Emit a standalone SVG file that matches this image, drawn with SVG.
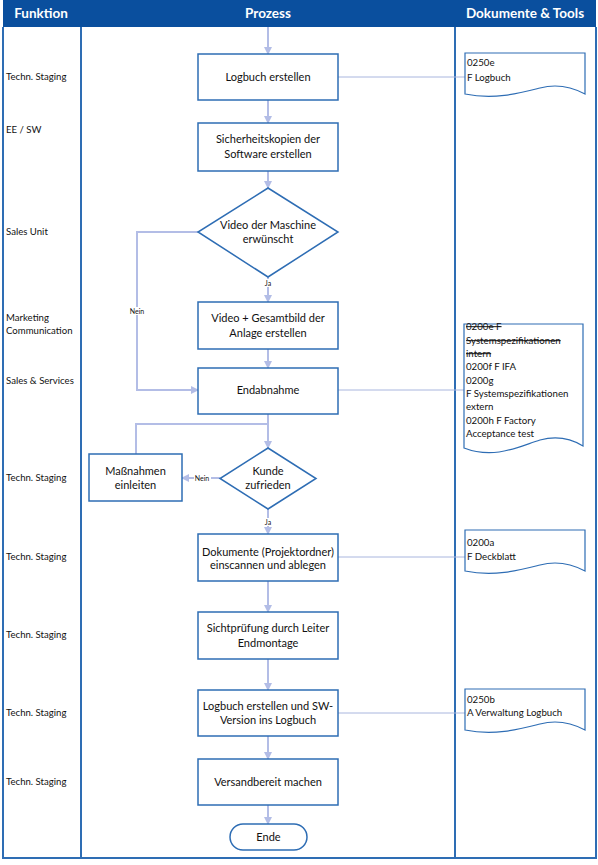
<svg xmlns="http://www.w3.org/2000/svg" width="598" height="865" viewBox="0 0 598 865">
<style>
text{font-family:Lato,"Liberation Sans",sans-serif;fill:#111}
.hdr{font-size:13.5px;font-weight:bold;fill:#fff;text-anchor:middle}
.fn{font-size:9.6px}
.bx{fill:#fff;stroke:#2E6DB4;stroke-width:1.5}
.t{font-size:11px;text-anchor:middle}
.doc{fill:#fff;stroke:#2E6DB4;stroke-width:1.2}
.dt{font-size:9.7px}
.frame{fill:none;stroke:#2E6DB4;stroke-width:2}
.ar{fill:none;stroke:#B3BDE6;stroke-width:2}
.ln{fill:none;stroke:#A9B6DE;stroke-width:1}
.lb{font-size:7px;text-anchor:middle}
.lbg{fill:#fff}
.st{text-decoration:line-through}
</style>
<defs>
<marker id="ah" markerWidth="8" markerHeight="8" refX="7" refY="4" orient="auto" markerUnits="userSpaceOnUse">
<path d="M0,0 L8,4 L0,8 Z" fill="#B3BDE6"/>
</marker>
</defs>
<g id="lanes">
<rect x="0" y="0" width="598" height="865" fill="#fff"/>
<rect x="3" y="0" width="593" height="27" fill="#0A4F9E"/>
<text class="hdr" x="41" y="18">Funktion</text>
<text class="hdr" x="268" y="18">Prozess</text>
<text class="hdr" x="525" y="18">Dokumente &amp; Tools</text>
<path class="frame" d="M3,27 V858 H596 V27 M81,27 V858 M455,27 V858"/>
</g>
<g id="functions">
<text class="fn" x="6" y="80">Techn. Staging</text>
<text class="fn" x="6" y="133">EE / SW</text>
<text class="fn" x="6" y="235">Sales Unit</text>
<text class="fn" x="6" y="321">Marketing</text>
<text class="fn" x="6" y="334">Communication</text>
<text class="fn" x="6" y="384">Sales &amp; Services</text>
<text class="fn" x="6" y="481">Techn. Staging</text>
<text class="fn" x="6" y="560">Techn. Staging</text>
<text class="fn" x="6" y="638">Techn. Staging</text>
<text class="fn" x="6" y="716">Techn. Staging</text>
<text class="fn" x="6" y="785">Techn. Staging</text>
</g>
<g id="connectors">
<path class="ln" d="M338,77 H465 M338,390 H464 M338,557 H465 M338,713 H465"/>
<path class="ar" d="M268,27 V54" marker-end="url(#ah)"/>
<path class="ar" d="M268,100 V123" marker-end="url(#ah)"/>
<path class="ar" d="M268,171 V188" marker-end="url(#ah)"/>
<path class="ar" d="M268,277 V302" marker-end="url(#ah)"/>
<path class="ar" d="M268,349 V368" marker-end="url(#ah)"/>
<path class="ar" d="M268,414 V448" marker-end="url(#ah)"/>
<path class="ar" d="M136,454 V424 H268"/>
<path class="ar" d="M198,232 H137 V390 H198" marker-end="url(#ah)"/>
<path class="ar" d="M220,478 H182" marker-end="url(#ah)"/>
<path class="ar" d="M268,509 V534" marker-end="url(#ah)"/>
<path class="ar" d="M268,581 V612" marker-end="url(#ah)"/>
<path class="ar" d="M268,659 V690" marker-end="url(#ah)"/>
<path class="ar" d="M268,736 V759" marker-end="url(#ah)"/>
<path class="ar" d="M268,805 V824" marker-end="url(#ah)"/>
<rect class="lbg" x="262" y="279" width="12" height="8"/>
<text class="lb" x="268" y="286">Ja</text>
<rect class="lbg" x="129" y="307" width="16" height="8"/>
<text class="lb" x="137" y="314">Nein</text>
<rect class="lbg" x="194" y="474" width="17" height="8"/>
<text class="lb" x="202" y="481">Nein</text>
<rect class="lbg" x="262" y="518" width="12" height="8"/>
<text class="lb" x="268" y="525">Ja</text>
</g>
<g id="n1"><rect class="bx" x="198" y="54" width="140" height="46"/><text class="t" x="268" y="81">Logbuch erstellen</text></g>
<g id="n2"><rect class="bx" x="198" y="123" width="140" height="48"/><text class="t" x="268" y="143">Sicherheitskopien der</text><text class="t" x="268" y="158">Software erstellen</text></g>
<g id="n3"><path class="bx" d="M268,188 L338,232 L268,277 L198,232 Z"/><text class="t" x="268" y="229">Video der Maschine</text><text class="t" x="268" y="243">erwünscht</text></g>
<g id="n4"><rect class="bx" x="198" y="302" width="140" height="47"/><text class="t" x="268" y="322">Video + Gesamtbild der</text><text class="t" x="268" y="337">Anlage erstellen</text></g>
<g id="n5"><rect class="bx" x="198" y="368" width="140" height="46"/><text class="t" x="268" y="394">Endabnahme</text></g>
<g id="n6"><path class="bx" d="M268,448 L316,478.5 L268,509 L220,478.5 Z"/><text class="t" x="268" y="475">Kunde</text><text class="t" x="268" y="489">zufrieden</text></g>
<g id="n7"><rect class="bx" x="89" y="454" width="93" height="47"/><text class="t" x="135.5" y="475">Maßnahmen</text><text class="t" x="135.5" y="489">einleiten</text></g>
<g id="n8"><rect class="bx" x="198" y="534" width="140" height="47"/><text class="t" x="268" y="556">Dokumente (Projektordner)</text><text class="t" x="268" y="569">einscannen und ablegen</text></g>
<g id="n9"><rect class="bx" x="198" y="612" width="140" height="47"/><text class="t" x="268" y="632">Sichtprüfung durch Leiter</text><text class="t" x="268" y="647">Endmontage</text></g>
<g id="n10"><rect class="bx" x="198" y="690" width="140" height="46"/><text class="t" x="268" y="710">Logbuch erstellen und SW-</text><text class="t" x="268" y="724">Version ins Logbuch</text></g>
<g id="n11"><rect class="bx" x="198" y="759" width="140" height="46"/><text class="t" x="268" y="786">Versandbereit machen</text></g>
<g id="n12"><rect class="bx" x="230" y="824" width="77" height="26" rx="13"/><text class="t" x="268.5" y="841">Ende</text></g>
<g id="d1"><path class="doc" d="M465,53 H585 V94 C570,86 555,84 540,88 C520,93 495,100 465,94 Z"/><text class="dt" x="467" y="66">0250e</text><text class="dt" x="467" y="81">F Logbuch</text></g>
<g id="d2"><path class="doc" d="M464,324 H583 V446 C570,438 555,436 540,440 C520,446 495,460 464,448 Z"/>
<text class="dt st" x="466" y="330">0200e F</text>
<text class="dt st" x="466" y="344">Systemspezifikationen</text>
<text class="dt st" x="466" y="357">intern</text>
<text class="dt" x="466" y="370">0200f F IFA</text>
<text class="dt" x="466" y="384">0200g</text>
<text class="dt" x="466" y="397">F Systemspezifikationen</text>
<text class="dt" x="466" y="410">extern</text>
<text class="dt" x="466" y="424">0200h F Factory</text>
<text class="dt" x="466" y="437">Acceptance test</text></g>
<g id="d3"><path class="doc" d="M465,530 H585 V571 C570,563 555,561 540,565 C520,570 495,577 465,571 Z"/><text class="dt" x="467" y="546">0200a</text><text class="dt" x="467" y="560">F Deckblatt</text></g>
<g id="d4"><path class="doc" d="M465,689 H585 V730 C570,722 555,720 540,724 C520,729 495,736 465,730 Z"/><text class="dt" x="467" y="703">0250b</text><text class="dt" x="467" y="716">A Verwaltung Logbuch</text></g>
</svg>
